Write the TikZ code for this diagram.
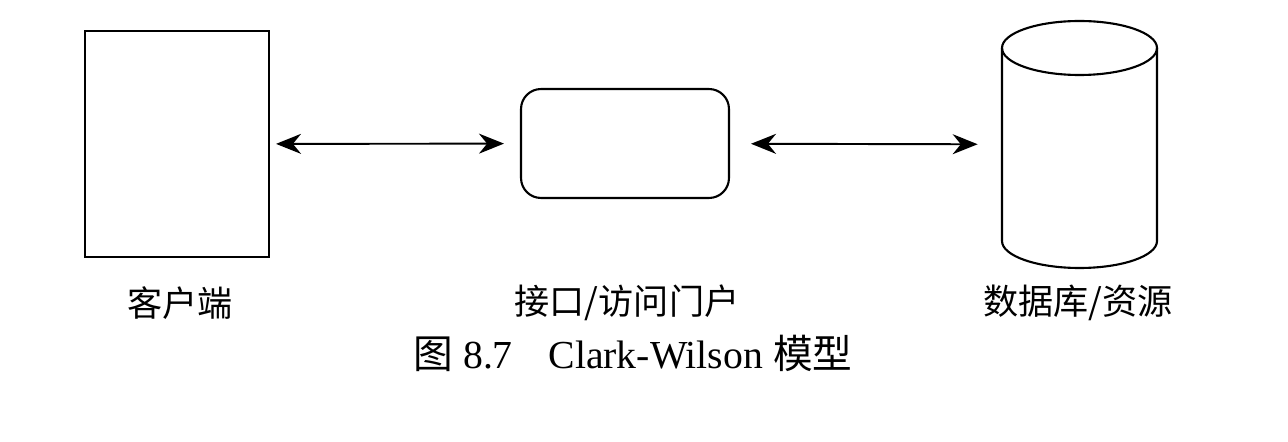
\documentclass[tikz,border=0pt]{standalone}
\usepackage{fontspec}
\setmainfont{Liberation Serif}
\newfontfamily\cjk{Noto Sans CJK SC}
\usetikzlibrary{arrows.meta}

\begin{document}
\begin{tikzpicture}[x=0.02cm,y=-0.02cm]
\useasboundingbox (0,0) rectangle (1288,442);
\tikzset{
  box/.style={draw,line width=1.2pt,inner sep=0pt},
  label/.style={font=\cjk\fontsize{20}{24}\selectfont,inner sep=0pt},
  link/.style={{Stealth[length=0.5cm,width=0.4cm]}-{Stealth[length=0.5cm,width=0.4cm]},line width=1.1pt}
}
\node[box,minimum width=3.68cm,minimum height=4.52cm] (client) at (177,144) {};

\node[box,rounded corners=0.4cm,minimum width=4.16cm,minimum height=2.18cm] (portal) at (625,143.5) {};

% database cylinder
\node[inner sep=0pt,minimum width=3.1cm,minimum height=4.94cm] (db) at (1079.5,144.5) {};
\draw[line width=1.2pt] (1079.5,48) ellipse [x radius=77.5,y radius=27];
\draw[line width=1.2pt] (1002,48) -- (1002,241)
  arc[start angle=180,end angle=0,x radius=77.5,y radius=27] -- (1157,48);

\draw[link,shorten <=0.12cm,shorten >=0.32cm] (client) -- (portal);

\draw[link,shorten <=0.42cm,shorten >=0.48cm] (portal) -- (db);

\node[label] (clientlabel) at (180,303) {客户端};
\node[label] (portallabel) at (627,303) {接口/访问门户};
\node[label] (dblabel) at (1078,303) {数据库/资源};

\node[inner sep=0pt,font=\fontsize{22.6}{26}\selectfont] (caption) at (633,353)
{{\cjk 图} 8.7\hspace{0.9em}Clark-Wilson {\cjk 模型}};
\end{tikzpicture}
\end{document}
